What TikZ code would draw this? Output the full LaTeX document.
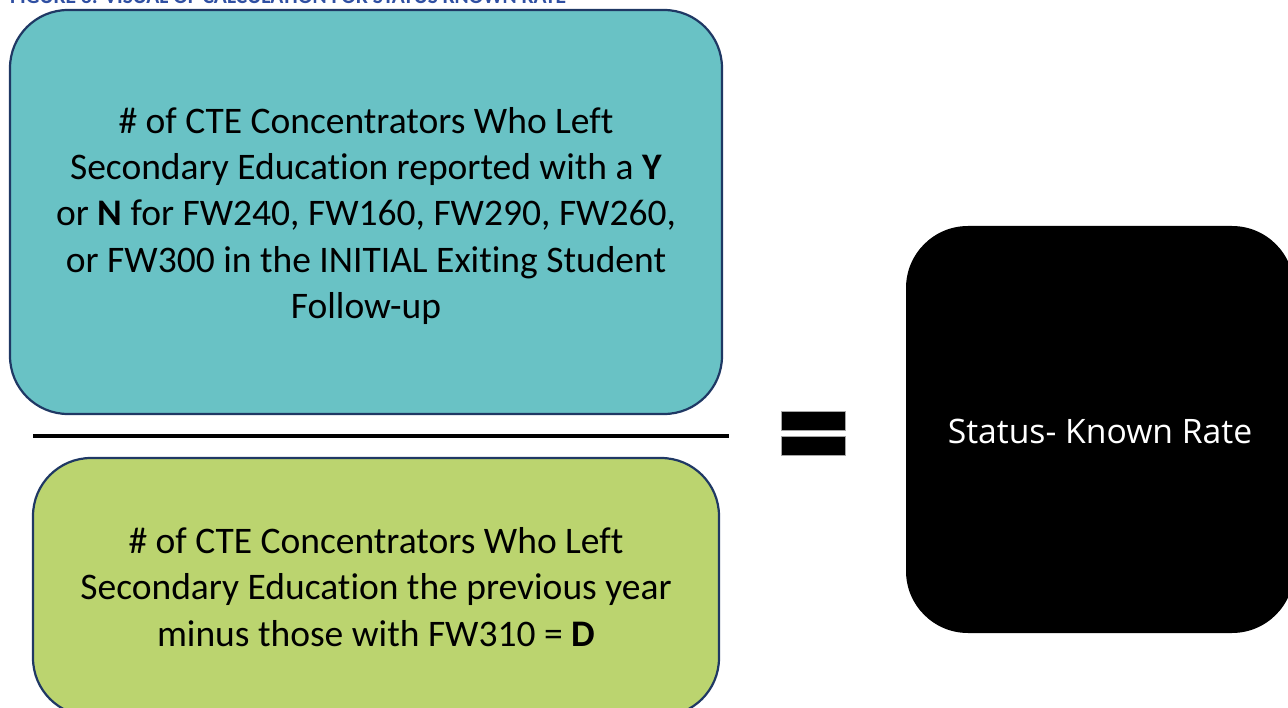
\documentclass[tikz,border=0pt]{standalone}
\usepackage{fontspec}
\setmainfont{Carlito}[Ligatures=NoCommon]
\newfontfamily\statusfont{Open Sans}
\definecolor{tealfill}{HTML}{69C2C5}
\definecolor{greenfill}{HTML}{BBD46F}
\definecolor{navyedge}{HTML}{1F3864}
\definecolor{titleblue}{HTML}{2F4FA2}
\tikzset{
  fracbox/.style={draw=navyedge, line width=2.2pt, rounded corners=58pt,
    align=center, inner sep=0pt, font=\fontsize{37.5}{46.3}\selectfont},
  resultbox/.style={fill=black, rounded corners=62pt, inner sep=0pt,
    text=white, font=\statusfont\fontsize{33.7}{40}\selectfont},
  eqbar/.style={fill=black, draw=gray!70, line width=0.8pt,
    minimum width=64pt, minimum height=19pt, inner sep=0pt},
}
\begin{document}
\begin{tikzpicture}[x=1pt,y=-1pt]
\useasboundingbox (0,0) rectangle (1288,708);
% caption, running off the top edge of the page
\node[anchor=base west, inner sep=0pt, text=titleblue,
  font=\bfseries\fontsize{21.5}{21.5}\selectfont] (title) at (10,3.5)
  {FIGURE 3: VISUAL OF CALCULATION FOR STATUS KNOWN RATE};
% numerator (the strut on the first line lowers the text block a little)
\node[fracbox, fill=tealfill, minimum width=712pt, minimum height=404pt] (num) at (366,212)
  {\rule{0pt}{34pt}\# of CTE Concentrators Who Left\\
   Secondary Education reported with a \textbf{Y}\\
   or \textbf{N} for FW240, FW160, FW290, FW260,\\
   or FW300 in the INITIAL Exiting Student\\
   Follow-up};
% fraction bar
\coordinate (barL) at (33,436);
\coordinate (barR) at (729,436);
\draw[line width=4pt] (barL) -- (barR);
% denominator
\node[fracbox, fill=greenfill, minimum width=686pt, minimum height=258pt] (den) at (376,587)
  {\# of CTE Concentrators Who Left\\
   Secondary Education the previous year\\
   minus those with FW310 = \textbf{D}};
% equals sign
\node[eqbar] (eqtop) at (813,420.5) {};
\node[eqbar] (eqbot) at (813,445.5) {};
% result
\node[resultbox, minimum width=388pt, minimum height=407pt] (rate) at (1100,429.5)
  {\rule{0pt}{28pt}Status- Known Rate};
\end{tikzpicture}
\end{document}
